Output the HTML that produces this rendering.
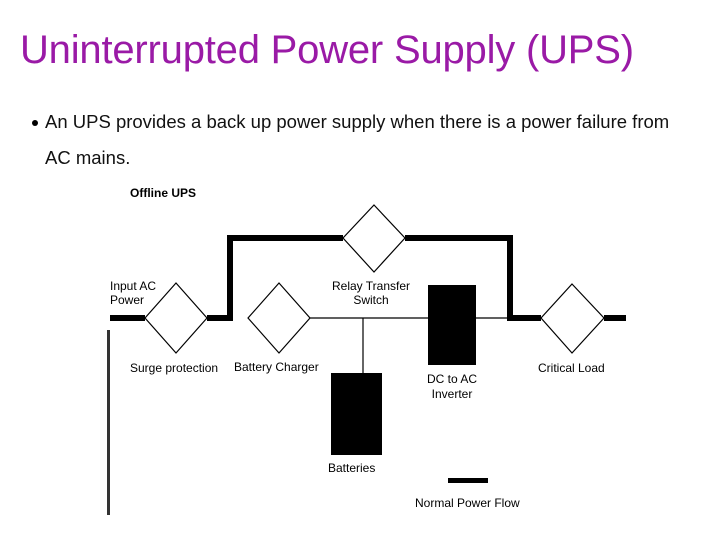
<!DOCTYPE html>
<html><head><style>
body{margin:0;width:720px;height:540px;background:#fff;overflow:hidden;position:relative;font-family:"Liberation Sans",sans-serif}
.t{position:absolute;left:20px;top:28px;font-size:40px;color:#9a1aa6;white-space:nowrap;letter-spacing:-0.2px}
.b{position:absolute;left:45px;font-size:18.5px;color:#111;white-space:nowrap}
.l{font-family:"Liberation Sans",sans-serif;font-size:12px;fill:#000}
</style></head><body>
<div class="t">Uninterrupted Power Supply (UPS)</div>
<div style="position:absolute;left:32px;top:120px;width:6px;height:6px;border-radius:50%;background:#000"></div>
<div class="b" style="top:111px">An UPS provides a back up power supply when there is a power failure from</div>
<div class="b" style="top:147px">AC mains.</div>
<svg width="720" height="540" style="position:absolute;left:0;top:0">
<g fill="none" stroke="#000">
<path d="M110 318H145M207 318H230V238H343M405 238H510V318H541M604 318H626" stroke-width="6"/>
<path d="M310 318H428M476 318H510M363 318V375" stroke-width="1.2"/>
<g stroke-width="1.2" fill="#fff">
<polygon points="176,283 207,318 176,353 145,318"/>
<polygon points="279,283 310,318 279,353 248,318"/>
<polygon points="374,205 405,238 374,272 343,238"/>
<polygon points="572,284 604,318 572,353 541,318"/>
</g>
</g>
<rect x="428" y="285" width="48" height="80" fill="#000"/>
<rect x="331" y="373" width="51" height="82" fill="#000"/>
<rect x="448" y="478" width="40" height="5" fill="#000"/>
<rect x="107" y="330" width="3" height="185" fill="#333"/>
<text class="l" x="130" y="197" font-weight="bold">Offline UPS</text>
<text class="l" x="110" y="290">Input AC</text>
<text class="l" x="110" y="304">Power</text>
<text class="l" x="371" y="290" text-anchor="middle">Relay Transfer</text>
<text class="l" x="371" y="304" text-anchor="middle">Switch</text>
<text class="l" x="130" y="372">Surge protection</text>
<text class="l" x="234" y="371">Battery Charger</text>
<text class="l" x="538" y="372">Critical Load</text>
<text class="l" x="452" y="383" text-anchor="middle">DC to AC</text>
<text class="l" x="452" y="398" text-anchor="middle">Inverter</text>
<text class="l" x="328" y="472">Batteries</text>
<text class="l" x="415" y="507">Normal Power Flow</text>
</svg>
</body></html>
